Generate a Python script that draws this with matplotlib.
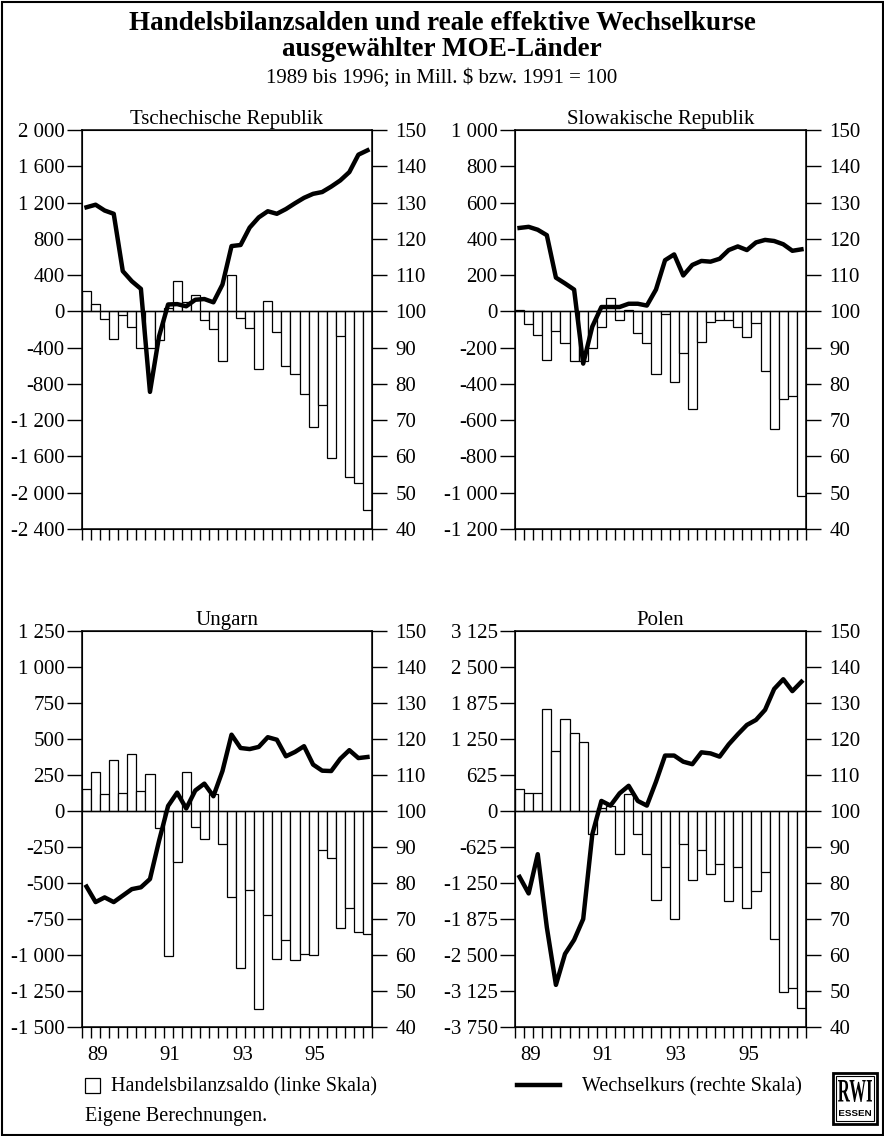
import matplotlib
matplotlib.use('Agg')
import matplotlib.pyplot as plt
from matplotlib.patches import Rectangle, PathPatch
from matplotlib.lines import Line2D
from matplotlib.textpath import TextPath
from matplotlib.font_manager import FontProperties
from matplotlib.transforms import Affine2D

plt.rcParams['font.family'] = ['Liberation Serif', 'DejaVu Serif']

# Quartalswerte 1989 I bis 1996 IV
year_labels = ['89', '91', '93', '95']
year_label_pos = [1.7, 9.7, 17.7, 25.7]

# Tschechische Republik
cz_saldo = [230, 80, -80, -300, -40, -176, -400, -400, -320, 40, 330, 100,
            176, -90, -190, -550, 400, -73, -187, -640, 118, -230, -607, -695,
            -908, -1274, -1028, -1614, -275, -1830, -1889, -2189]
cz_kurs = [128.7, 129.4, 127.8, 126.9, 111.1, 108.3, 106.2, 77.8, 93.1, 101.9,
           102.0, 101.4, 103.2, 103.4, 102.5, 107.4, 118.0, 118.3, 123.1, 125.9,
           127.6, 126.9, 128.2, 129.8, 131.3, 132.4, 132.9, 134.4, 136.1, 138.4,
           143.2, 144.4]
cz_ticks = [-2400, -2000, -1600, -1200, -800, -400, 0, 400, 800, 1200, 1600, 2000]

# Slowakische Republik
sk_saldo = [5, -69, -130, -270, -106, -172, -276, -275, -204, -87, 74, -48,
            5, -122, -174, -343, -13, -389, -231, -541, -168, -59, -48, -46,
            -87, -141, -63, -328, -648, -483, -468, -1017]
sk_kurs = [123.0, 123.3, 122.5, 121.0, 109.3, 107.7, 106.0, 85.6, 95.8, 101.2,
           101.2, 101.2, 102.1, 102.1, 101.6, 106.0, 114.1, 115.7, 109.9, 112.8,
           113.9, 113.7, 114.5, 116.9, 117.9, 116.9, 119.0, 119.7, 119.4, 118.5,
           116.7, 117.1]
sk_ticks = [-1200, -1000, -800, -600, -400, -200, 0, 200, 400, 600, 800, 1000]

# Ungarn
hu_saldo = [150, 270, 115, 355, 127, 396, 138, 258, -115, -1007, -352, 272,
            -108, -196, 115, -230, -594, -1090, -548, -1378, -721, -1025, -899, -1032,
            -995, -1002, -272, -323, -813, -677, -841, -852]
hu_kurs = [79.0, 74.7, 76.0, 74.7, 76.5, 78.3, 78.8, 81.1, 91.7, 101.4,
           105.1, 100.7, 105.7, 107.6, 104.1, 111.1, 121.2, 117.5, 117.2, 117.8,
           120.5, 119.8, 115.2, 116.4, 118.0, 112.9, 111.2, 111.1, 114.5, 116.9,
           114.7, 115.0]
hu_ticks = [-1500, -1250, -1000, -750, -500, -250, 0, 250, 500, 750, 1000, 1250]

# Polen
pl_saldo = [382, 307, 307, 1765, 1042, 1597, 1348, 1192, -400, 50, 80, -750,
            290, -400, -740, -1546, -969, -1875, -577, -1200, -681, -1096, -923, -1558,
            -964, -1685, -1385, -1056, -2216, -3145, -3075, -3416]
pl_kurs = [81.7, 77.1, 88.0, 67.7, 51.7, 60.3, 64.2, 70.0, 93.5, 102.8,
           101.5, 104.9, 107.0, 102.8, 101.5, 108.1, 115.4, 115.4, 113.7, 113.0,
           116.3, 116.0, 115.1, 118.5, 121.3, 123.9, 125.3, 128.1, 133.9, 136.6,
           133.3, 135.9]
pl_ticks = [-3750, -3125, -2500, -1875, -1250, -625, 0, 625, 1250, 1875, 2500, 3125]

right_ticks = [40, 50, 60, 70, 80, 90, 100, 110, 120, 130, 140, 150]

panels = [
    ('Tschechische Republik', cz_saldo, cz_kurs, cz_ticks, [82, 130, 372, 529], False),
    ('Slowakische Republik', sk_saldo, sk_kurs, sk_ticks, [515, 130, 806, 529], False),
    ('Ungarn', hu_saldo, hu_kurs, hu_ticks, [82, 631, 372, 1027], True),
    ('Polen', pl_saldo, pl_kurs, pl_ticks, [515, 631, 806, 1027], True),
]

W, H = 884, 1136
fs = 15
fig = plt.figure(figsize=(W / 100, H / 100), dpi=100)


def fmt(v):
    return '{:,}'.format(v).replace(',', ' ')


def boxed_text(s, x0, y0, w, h, prop):
    # Text in eine Pixelbox (x0, y0 = oben links) strecken
    path = TextPath((0, 0), s, size=1, prop=prop)
    ext = path.get_extents()
    tr = (Affine2D().translate(-ext.x0, -ext.y0)
          .scale(w / ext.width / W, h / ext.height / H)
          .translate(x0 / W, 1 - (y0 + h) / H))
    fig.add_artist(PathPatch(path, transform=tr + fig.transFigure,
                             facecolor='black', edgecolor='none'))


for title, saldo, kurs, ticks, box, labels in panels:
    x0, y0, x1, y1 = box
    ax = fig.add_axes([x0 / W, 1 - y1 / H, (x1 - x0) / W, (y1 - y0) / H])
    n = len(saldo)
    xs = [i + 0.5 for i in range(n)]
    ax.bar(xs, saldo, width=1.0, color='white', edgecolor='black', linewidth=0.9, zorder=2)
    ax.axhline(0, color='black', lw=1.0, zorder=3)
    ax.set_xlim(0, n)
    ax.set_ylim(ticks[0], ticks[-1])
    ax.set_yticks(ticks)
    ax.set_yticklabels([fmt(t) for t in ticks])
    ax.tick_params(axis='y', direction='out', length=11, width=1.0, pad=1.5, labelsize=fs)
    ax.set_xticks(year_label_pos)
    ax.set_xticklabels(year_labels if labels else [])
    ax.set_xticks(range(n + 1), minor=True)
    ax.tick_params(axis='x', which='major', length=0, pad=14, labelsize=fs)
    ax.tick_params(axis='x', which='minor', direction='out', length=8, width=1.0)
    for s in ax.spines.values():
        s.set_linewidth(1.1)
    ax.set_title(title, fontsize=fs, pad=4)

    ax2 = ax.twinx()
    ax2.plot(xs, kurs, color='black', lw=3.2, solid_joinstyle='round', zorder=4)
    ax2.set_ylim(40, 150)
    ax2.set_yticks(right_ticks)
    ax2.tick_params(axis='y', direction='out', length=11, width=1.0, pad=6, labelsize=fs)
    ax2.set_xlim(0, n)

# Titel
fig.text(0.5, 1 - 23 / H, 'Handelsbilanzsalden und reale effektive Wechselkurse',
         ha='center', va='center', fontsize=19.5, fontweight='bold')
fig.text(0.5, 1 - 49 / H, 'ausgewählter MOE-Länder',
         ha='center', va='center', fontsize=19.5, fontweight='bold')
fig.text(0.5, 1 - 79 / H, '1989 bis 1996; in Mill. $ bzw. 1991 = 100',
         ha='center', va='center', fontsize=fs)

# Legende
fig.add_artist(Rectangle((85 / W, 1 - 1093 / H), 15 / W, 15 / H, transform=fig.transFigure,
                         facecolor='white', edgecolor='black', lw=0.9))
fig.text(111 / W, 1 - 1087 / H, 'Handelsbilanzsaldo (linke Skala)',
         ha='left', va='center', fontsize=14.5)
fig.add_artist(Line2D([517 / W, 560 / W], [1 - 1085 / H, 1 - 1085 / H],
                      transform=fig.transFigure, color='black', lw=3.2))
fig.text(582 / W, 1 - 1087 / H, 'Wechselkurs (rechte Skala)',
         ha='left', va='center', fontsize=14.5)
fig.text(85 / W, 1 - 1116 / H, 'Eigene Berechnungen.',
         ha='left', va='center', fontsize=14.5)

# RWI-Logo
fig.add_artist(Rectangle((833 / W, 1 - 1124 / H), 44 / W, 51 / H, transform=fig.transFigure,
                         facecolor='white', edgecolor='black', lw=2.0))
fig.add_artist(Rectangle((836 / W, 1 - 1121 / H), 38 / W, 45 / H, transform=fig.transFigure,
                         facecolor='none', edgecolor='black', lw=0.8))
boxed_text('RWI', 838, 1080, 34, 22, FontProperties(family='Liberation Serif', weight='bold'))
boxed_text('ESSEN', 839, 1110, 32, 6, FontProperties(family='Liberation Sans', weight='bold'))

# Rahmen
fig.add_artist(Rectangle((1.5 / W, 1.5 / H), (W - 3) / W, (H - 3) / H, transform=fig.transFigure,
                         facecolor='none', edgecolor='black', lw=1.5))

fig.savefig('out.png', dpi=100)
